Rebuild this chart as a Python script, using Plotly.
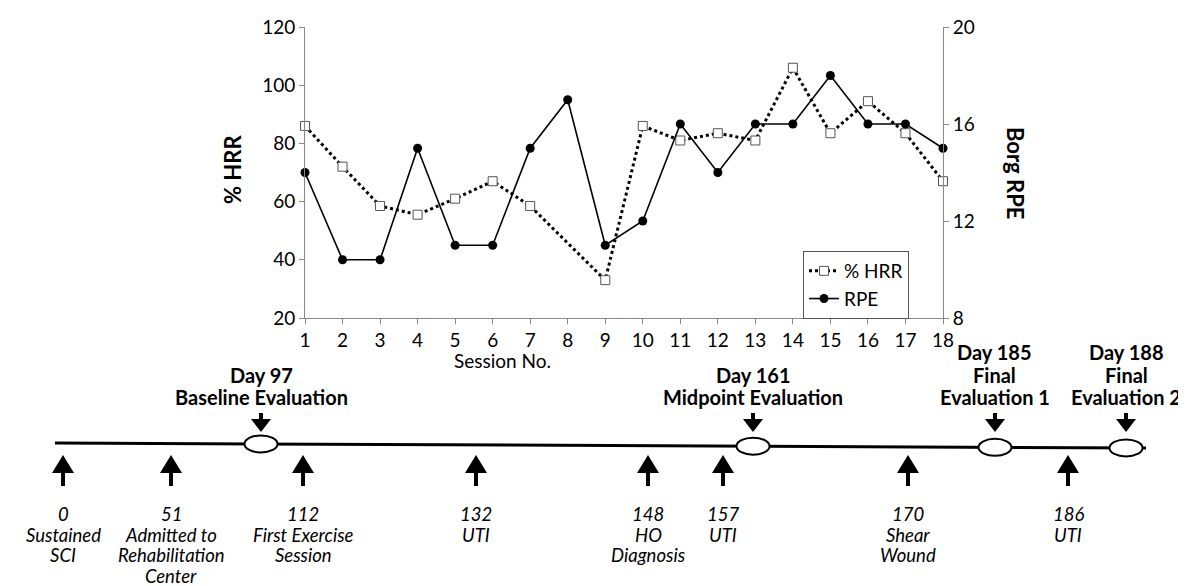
import plotly.graph_objects as go

# ---------------- data ----------------
sessions = list(range(1, 19))
hrr = [86, 72, 58.5, 55.5, 61, 67, 58.5, None, 33, 86, 81, 83.5, 81, 106, 83.5, 94.5, 83.5, 67]
rpe = [14, 10.4, 10.4, 15, 11, 11, 15, 17, 11, 12, 16, 14, 16, 16, 18, 16, 16, 15]

event_days = ["0", "51", "112", "132", "148", "157", "170", "186"]
event_labels = ["Sustained<br>SCI", "Admitted to<br>Rehabilitation<br>Center", "First Exercise<br>Session",
                "UTI", "HO<br>Diagnosis", "UTI", "Shear<br>Wound", "UTI"]
eval_days = ["97", "161", "185", "188"]
eval_labels = ["Baseline Evaluation", "Midpoint Evaluation", "Final<br>Evaluation 1", "Final<br>Evaluation 2"]

# schematic (non-proportional) timeline positions, in pixels
event_px = [55, 163, 295, 468, 640, 715, 900, 1060]
eval_px = [253, 745, 987, 1118]

W, H = 1186, 586
FONT = "Lato"


def X(px):
    return px / W


def Y(py):
    return 1 - py / H


fig = go.Figure()
fig.add_trace(go.Scatter(
    x=sessions, y=hrr, name="% HRR", mode="lines+markers", connectgaps=True,
    line=dict(color="black", width=3, dash="dot"),
    marker=dict(symbol="square", size=9, color="white", line=dict(color="#555", width=1)),
    cliponaxis=False,
))
fig.add_trace(go.Scatter(
    x=sessions, y=rpe, name="RPE", mode="lines+markers", yaxis="y2",
    line=dict(color="black", width=1.6),
    marker=dict(symbol="circle", size=9, color="black"),
    cliponaxis=False,
))

axis_common = dict(showline=True, linecolor="#888", linewidth=1, ticks="outside", ticklen=5,
                   tickcolor="#888", tickfont=dict(family=FONT, size=19, color="black"),
                   showgrid=False, zeroline=False, fixedrange=True, automargin=False)

fig.update_layout(
    width=W, height=H,
    margin=dict(l=0, r=0, t=0, b=0),
    paper_bgcolor="white", plot_bgcolor="white",
    xaxis=dict(domain=[X(297), X(935)], range=[1, 18], tickvals=sessions, anchor="y", **axis_common),
    yaxis=dict(domain=[Y(310), Y(19)], range=[20, 120], tickvals=[20, 40, 60, 80, 100, 120],
               anchor="x", **axis_common),
    yaxis2=dict(domain=[Y(310), Y(19)], range=[8, 20], tickvals=[8, 12, 16, 20], overlaying="y",
                side="right", anchor="x", **axis_common),
    legend=dict(x=X(795), y=Y(243), xanchor="left", yanchor="top", bgcolor="white",
                bordercolor="#555", borderwidth=1, font=dict(family=FONT, size=19, color="black"),
                tracegroupgap=0, entrywidth=80),
    showlegend=True,
)

anns = []
# axis titles
anns.append(dict(x=X(494), y=Y(352), text="Session No.", font=dict(family=FONT, size=19, color="black")))
anns.append(dict(x=X(224), y=Y(162), text="<b>% HRR</b>", textangle=-90,
                 font=dict(family=FONT, size=22, color="black")))
anns.append(dict(x=X(1008), y=Y(165), text="<b>Borg RPE</b>", textangle=90,
                 font=dict(family=FONT, size=22, color="black")))

shapes = []
# timeline line
shapes.append(dict(type="line", xref="paper", yref="paper", x0=X(47), y0=Y(435), x1=X(1138), y1=Y(440),
                   line=dict(color="black", width=3)))


def line_y(px):
    return 435 + (px - 47) / (1138 - 47) * 5


# up arrows + event labels
for px, day, lab in zip(event_px, event_days, event_labels):
    shapes.append(dict(type="path", xref="paper", yref="paper",
                       path=f"M {X(px-11)},{Y(465)} L {X(px+11)},{Y(465)} L {X(px)},{Y(447)} Z",
                       fillcolor="black", line=dict(color="black", width=0)))
    shapes.append(dict(type="rect", xref="paper", yref="paper", x0=X(px - 2), x1=X(px + 2),
                       y0=Y(478), y1=Y(464), fillcolor="black", line=dict(width=0)))
    lines = [day] + lab.split("<br>")
    for i, t in enumerate(lines):
        anns.append(dict(x=X(px), y=Y(506 + 20.7 * i), text=t,
                         font=dict(family=FONT, size=18.5, color="black", style="italic")))

# evaluation markers
for px, day, lab in zip(eval_px, eval_days, eval_labels):
    cy = line_y(px)
    shapes.append(dict(type="circle", xref="paper", yref="paper", x0=X(px - 16.5), x1=X(px + 16.5),
                       y0=Y(cy + 8.5), y1=Y(cy - 8.5), fillcolor="white", line=dict(color="black", width=2)))
    shapes.append(dict(type="rect", xref="paper", yref="paper", x0=X(px - 2), x1=X(px + 2),
                       y0=Y(412), y1=Y(405), fillcolor="black", line=dict(width=0)))
    shapes.append(dict(type="path", xref="paper", yref="paper",
                       path=f"M {X(px-10)},{Y(411)} L {X(px+10)},{Y(411)} L {X(px)},{Y(424)} Z",
                       fillcolor="black", line=dict(color="black", width=0)))
    lines = ["Day " + day] + lab.split("<br>")
    n = len(lines)
    for i, t in enumerate(lines):
        anns.append(dict(x=X(px), y=Y(389 - 22.5 * (n - 1 - i)), text="<b>" + t + "</b>",
                         font=dict(family=FONT, size=20, color="black")))

for a in anns:
    a.update(xref="paper", yref="paper", showarrow=False, xanchor="center", yanchor="middle")

fig.update_layout(annotations=anns, shapes=shapes)
fig.write_html("out.html")
